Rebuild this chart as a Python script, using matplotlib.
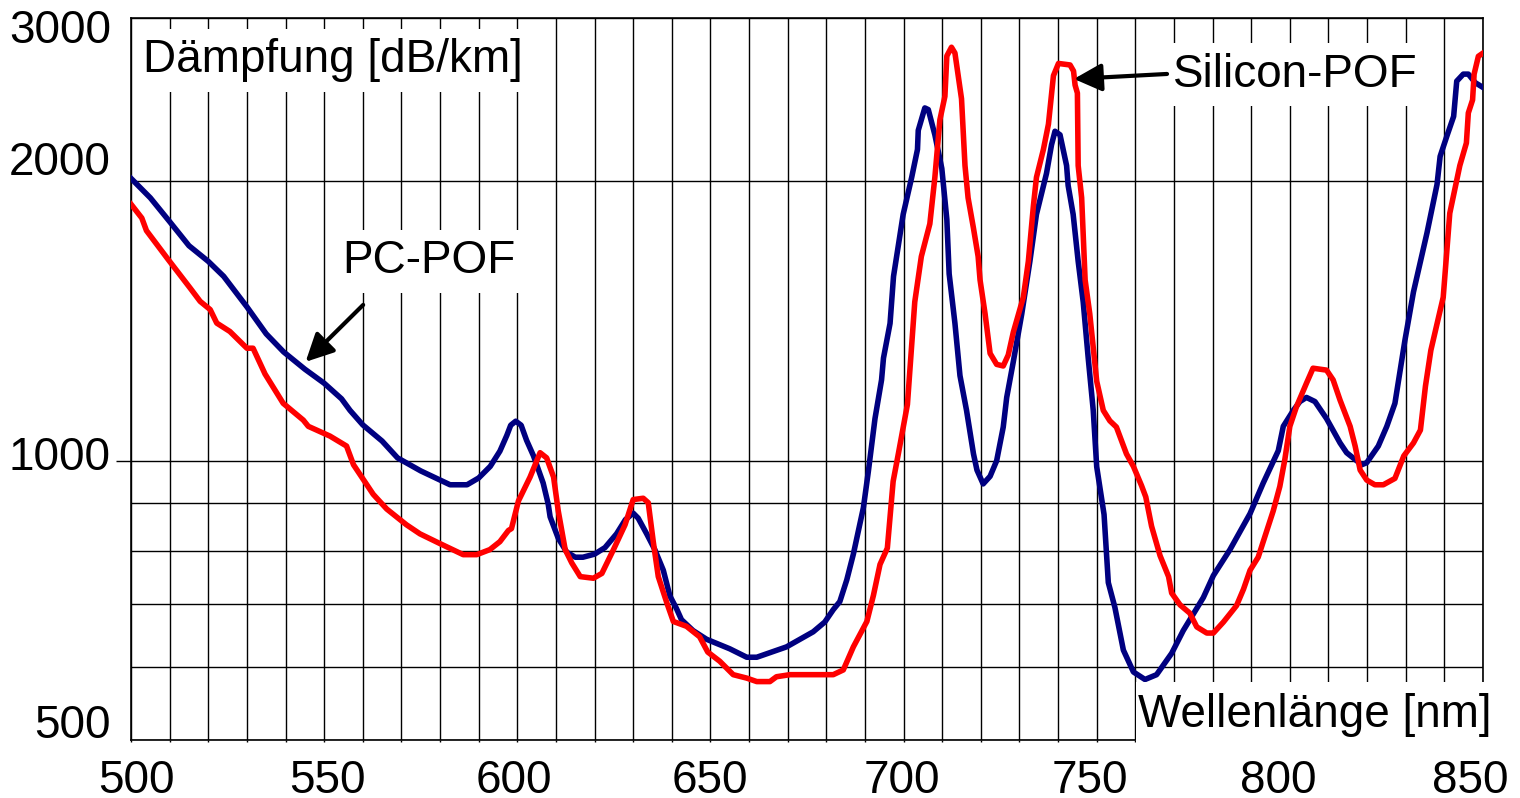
import numpy as np
import matplotlib.pyplot as plt
from matplotlib.ticker import FixedLocator, NullFormatter, MultipleLocator
from matplotlib.patches import Rectangle
from matplotlib.transforms import ScaledTranslation

plt.rcParams['font.family'] = ['Liberation Sans', 'DejaVu Sans']

# PC-POF attenuation
pc_nm = [500, 505, 510, 515, 520, 524, 530, 535, 539.5, 545, 550, 554.5, 556.7, 560,
         565, 569, 575, 582.6, 587, 590, 593, 595.5, 597.3, 598.3, 599.6, 601, 602.4,
         604.2, 606.7, 608, 608.5, 610.6, 612.8, 615, 617, 620, 622.7, 625.7, 628, 630,
         631.3, 633.5, 635.6, 637.8, 639.5, 641.2, 642.5, 645.5, 649, 655, 659.4, 662,
         669.7, 676.6, 679.6, 681.8, 683.5, 685.3, 687, 689.6, 690.9, 692.6, 694.3,
         694.8, 696.5, 697.4, 699.9, 702.1, 703.6, 703.8, 705.5, 706.4, 708.1, 709.9,
         711.2, 711.8, 713.3, 714.6, 716.3, 718.1, 719, 720.6, 722.4, 724.1, 725.8,
         726.7, 728.4, 730.6, 732.7, 734.4, 737, 738.3, 739.2, 740.5, 742.2, 742.6,
         743.9, 745.2, 746.5, 747.8, 749.1, 750, 751.9, 753, 754.7, 756.9, 759.5,
         762.5, 765.5, 769.4, 772.4, 777.6, 780.2, 784.5, 789.7, 793.1, 797, 798.3,
         800.9, 802.6, 804.3, 806.5, 809.5, 813, 814.7, 818.6, 819.9, 822.9, 825.1,
         827.2, 829.8, 832, 835.5, 838.1, 838.9, 840.6, 842.4, 843.2, 844.9, 846.2,
         848, 850]
pc_db = [2015, 1920, 1810, 1705, 1640, 1580, 1465, 1370, 1310, 1255, 1212, 1166, 1133, 1093,
         1050, 1007, 975, 942, 942, 958, 986, 1024, 1065, 1092, 1103, 1092, 1052,
         1012, 946, 898, 870, 825, 797, 787, 787, 793, 806, 834, 864, 878,
         867, 834, 802, 762, 715, 693, 674, 656, 642, 627, 614, 614,
         630, 654, 670, 691, 705, 744, 793, 890, 975, 1110, 1222,
         1290, 1406, 1580, 1843, 2020, 2165, 2270, 2400, 2390, 2245, 2065,
         1820, 1590, 1406, 1235, 1133, 1017, 977, 944, 962, 1000, 1087,
         1170, 1278, 1440, 1640, 1843, 2040, 2190, 2265, 2245, 2080, 1980,
         1843, 1640, 1483, 1290, 1133, 985, 875, 739, 695, 625, 592,
         581, 588, 620, 656, 712, 752, 802, 877, 946, 1025, 1089,
         1133, 1158, 1170, 1158, 1110, 1045, 1020, 990, 995, 1037, 1089,
         1153, 1349, 1520, 1760, 1985, 2128, 2235, 2350, 2565, 2610, 2610,
         2555, 2525]

# Silicon-POF attenuation
si_nm = [500, 502.8, 504, 509.7, 515.3, 517.9, 520.5, 522.2, 525.6, 530, 531.6, 534.7,
         539.4, 544.6, 545.9, 551.5, 555.8, 557.6, 562.7, 566.2, 571.3, 574.8, 580,
         586, 589.5, 592.9, 595.5, 597.7, 598.5, 600.3, 603.3, 605.9, 607.6, 609.4,
         610.6, 612.4, 614.1, 616.3, 619.7, 621.9, 624.9, 627.9, 630, 632.6, 633.9,
         635.2, 636.5, 638.7, 640.4, 643.8, 647.2, 649.3, 652.4, 655.9, 659.4, 662,
         665.4, 667.1, 670.6, 681.8, 684.4, 687, 690.5, 692.2, 693.9, 695.8, 697.3,
         698.7, 701, 702.9, 704.6, 706.8, 708.1, 709.4, 710.7, 711.2, 712.4, 713.3,
         713.8, 715, 715.9, 716.7, 718.1, 719.3, 719.8, 721.1, 722.4, 724.1, 725.8,
         727.1, 728.4, 731, 732.3, 733.6, 734.4, 736.2, 737.5, 738.8, 740.1, 743.1,
         744, 744.4, 745, 745.2, 746.1, 747, 748.2, 750, 751.7, 753.4, 755.1, 757.7,
         759.5, 761.6, 762.7, 764.2, 766.4, 768.6, 769.4, 771.6, 774.1, 775.9, 778.5,
         780.2, 782.8, 786.2, 788, 789.7, 791.8, 793.1, 795.7, 797.4, 798.7, 800,
         801.7, 804.3, 806, 809.5, 811.2, 813, 815.6, 816.9, 818.2, 819.9, 822, 824.2,
         827.2, 829.5, 832, 833.8, 835.1, 836.5, 839.7, 841.4, 844, 845.7, 846.2,
         847.3, 847.7, 848.8, 850]
si_db = [1890, 1826, 1770, 1646, 1535, 1485, 1455, 1407, 1378, 1322, 1322, 1240,
         1153, 1106, 1089, 1063, 1037, 990, 920, 887, 853, 834, 814,
         792, 792, 802, 818, 841, 845, 905, 960, 1020, 1007, 960,
         883, 802, 776, 750, 747, 756, 802, 853, 908, 911, 901,
         818, 750, 703, 671, 663, 646, 622, 608, 588, 583, 578,
         578, 585, 588, 588, 595, 630, 671, 716, 773, 805, 950,
         1020, 1150, 1483, 1660, 1800, 2020, 2330, 2470, 2730, 2790, 2750,
         2660, 2455, 2080, 1920, 1780, 1660, 1566, 1440, 1305, 1270, 1265,
         1300, 1375, 1500, 1640, 1880, 2020, 2165, 2305, 2600, 2680, 2670,
         2630, 2540, 2490, 2080, 1920, 1566, 1440, 1218, 1133, 1104, 1087, 1017,
         986, 940, 914, 850, 790, 750, 720, 699, 685, 662, 652,
         652, 670, 698, 727, 762, 787, 818, 883, 938, 1003, 1089,
         1143, 1212, 1258, 1252, 1222, 1162, 1089, 1037, 977, 953, 942, 942,
         957, 1012, 1045, 1079, 1203, 1315, 1500, 1848, 2080, 2200, 2370,
         2448, 2610, 2728, 2750]

y_ticks = [500, 1000, 2000, 3000]
y_minor = [600, 700, 800, 900]
x_ticks = [500, 550, 600, 650, 700, 750, 800, 850]

fig = plt.figure(figsize=(15.2, 7.98), dpi=100)
ax = fig.add_axes([131 / 1520, 58 / 798, 1352 / 1520, 722 / 798])

ax.plot(pc_nm, pc_db, color='#000080', lw=4, zorder=2.6, solid_joinstyle='round')
ax.plot(si_nm, si_db, color='#ff0000', lw=4, zorder=2.6, solid_joinstyle='round')

ax.set_yscale('log')
ax.set_xlim(500, 850)
ax.set_ylim(500, 3000)

# ticks and grid
ax.set_xticks(x_ticks)
ax.set_xticklabels([str(v) for v in x_ticks])
ax.xaxis.set_minor_locator(MultipleLocator(10))
ax.yaxis.set_major_locator(FixedLocator(y_ticks))
ax.yaxis.set_minor_locator(FixedLocator(y_minor))
ax.yaxis.set_minor_formatter(NullFormatter())
ax.set_yticklabels([str(v) for v in y_ticks])
ax.grid(which='both', color='black', lw=1.0)

ax.tick_params(axis='x', which='both', length=1.5, width=1.0, pad=12, labelsize=33)
ax.tick_params(axis='y', which='minor', length=0)
ax.tick_params(axis='y', which='major', length=11, width=1.0, pad=3.5, labelsize=33)

for s in ax.spines.values():
    s.set_linewidth(1.2)

box = dict(facecolor='white', edgecolor='none', pad=7)
ax.text(0.0089, 0.925, 'Dämpfung [dB/km]', transform=ax.transAxes, fontsize=33,
        ha='left', va='baseline', bbox=box, zorder=3)
ax.text(0.1566, 0.6464, 'PC-POF', transform=ax.transAxes, fontsize=33,
        ha='left', va='baseline', bbox=box, zorder=3)
ax.text(0.7707, 0.9049, 'Silicon-POF', transform=ax.transAxes, fontsize=33,
        ha='left', va='baseline', bbox=box, zorder=3)

# arrows pointing at the curves
arrow = dict(arrowstyle='-|>,head_length=0.4,head_width=0.2', mutation_scale=42,
             lw=3, color='black', shrinkA=0, shrinkB=0)
ax.annotate('', xy=(545.2, 1278), xytext=(560.1, 1472), arrowprops=arrow, zorder=3)
ax.annotate('', xy=(744.1, 2579), xytext=(768.2, 2611), arrowprops=arrow, zorder=3)

# x-axis title sits in a white box over the lower right corner
ax.add_patch(Rectangle((0.7433, -0.008), 0.28, 0.0883, transform=ax.transAxes,
                       facecolor='white', edgecolor='none', clip_on=False, zorder=4))
ax.text(0.7448, 0.0184, 'Wellenlänge [nm]', transform=ax.transAxes, fontsize=33,
        ha='left', va='baseline', zorder=5)

# the original labels sit a little off their ticks (pixel nudges)
x_dx = [5, 3, -3, -1, -2, -7, -12, -13]
for tick, dx in zip(ax.xaxis.get_major_ticks(), x_dx):
    lab = tick.label1
    lab.set_transform(lab.get_transform() + ScaledTranslation(dx / 100, 0, fig.dpi_scale_trans))

y_dy = [19, 8, 23, -8]
for tick, v, dy in zip(ax.yaxis.get_major_ticks(), y_ticks, y_dy):
    tick.tick1line.set_visible(v == 1000)   # only 1000 has a tick mark
    lab = tick.label1
    lab.set_va('center_baseline')
    lab.set_transform(lab.get_transform() + ScaledTranslation(0, dy / 100, fig.dpi_scale_trans))

fig.savefig('out.png', dpi=100)
